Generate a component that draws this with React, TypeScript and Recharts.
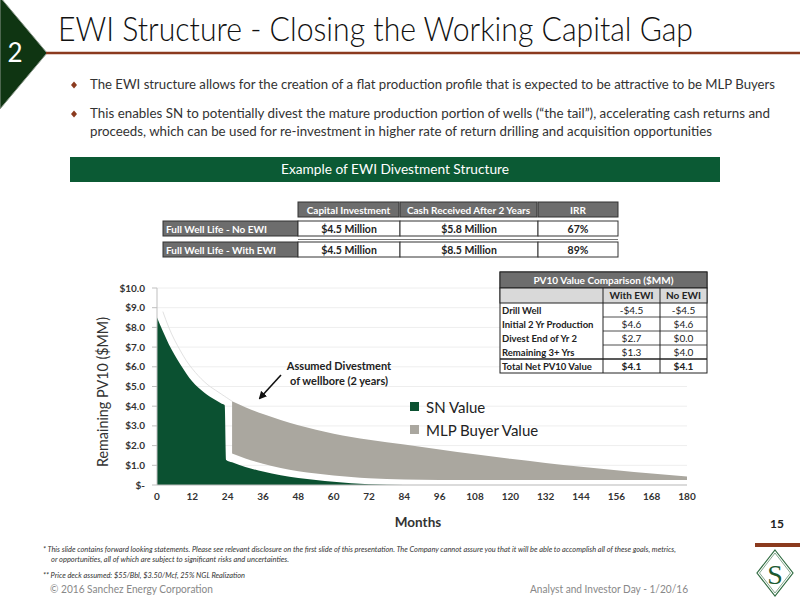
import React from 'react';
import { ComposedChart, Area, Line, XAxis, YAxis, CartesianGrid, Legend } from 'recharts';

// ---------- chart data ----------
const months = [0, 2, 4, 6, 8, 10, 12, 14, 16, 18, 20, 22, 23, 23.5, 25.5, 30, 36, 42, 48, 54, 60, 66, 72, 84, 96, 108, 120, 132, 144, 156, 168, 180];
const snValue = [8.5, 7.8, 7.15, 6.6, 6.1, 5.65, 5.25, 4.95, 4.7, 4.48, 4.3, 4.12, 4.05, 1.27, 1.15, 0.92, 0.68, 0.5, 0.35, 0.25, 0.16, 0.09, 0.04, 0, 0, 0, 0, 0, 0, 0, 0, 0];
const mlpLow: (number | null)[] = [null, null, null, null, null, null, null, null, null, null, null, null, null, null, 1.6, 1.35, 1.08, 0.86, 0.7, 0.58, 0.48, 0.4, 0.34, 0.28, 0.26, 0.25, 0.25, 0.25, 0.25, 0.25, 0.25, 0.25];
const mlpHigh: (number | null)[] = [null, null, null, null, null, null, null, null, null, null, null, null, null, null, 4.25, 3.95, 3.6, 3.3, 3.03, 2.8, 2.6, 2.44, 2.3, 2.05, 1.8, 1.56, 1.33, 1.12, 0.93, 0.75, 0.58, 0.43];
const outline: (number | null)[] = [null, 8.8, 8.0, 7.35, 6.8, 6.3, 5.9, 5.55, 5.25, 5.0, 4.8, 4.6, 4.5, 4.45, 4.25, null, null, null, null, null, null, null, null, null, null, null, null, null, null, null, null, null];

const xTicks = [0, 12, 24, 36, 48, 60, 72, 84, 96, 108, 120, 132, 144, 156, 168, 180];
const yTicks = [0, 1, 2, 3, 4, 5, 6, 7, 8, 9, 10];

const seriesOrder = ['sn', 'mlp'];
const seriesNames = { sn: 'SN Value', mlp: 'MLP Buyer Value' };
const seriesColors = { sn: '#0b5131', mlp: '#aaa79f' };

// ---------- slide text ----------
const titleText = 'EWI Structure - Closing the Working Capital Gap';
const bulletLines = [
  'The EWI structure allows for the creation of a flat production profile that is expected to be attractive to be MLP Buyers',
  'This enables SN to potentially divest the mature production portion of wells (\u201cthe tail\u201d), accelerating cash returns and',
  'proceeds, which can be used for re-investment in higher rate of return drilling and acquisition opportunities',
];
const bannerText = 'Example of EWI Divestment Structure';

// ---------- table 1 ----------
const t1Headers = ['Capital Investment', 'Cash Received After 2 Years', 'IRR'];
const t1RowLabels = ['Full Well Life - No EWI', 'Full Well Life - With EWI'];
const t1Capital = ['$4.5 Million', '$4.5 Million'];
const t1Cash = ['$5.8 Million', '$8.5 Million'];
const t1Irr = ['67%', '89%'];

// ---------- PV10 table ----------
const pvTitle = 'PV10 Value Comparison ($MM)';
const pvHeaders = ['With EWI', 'No EWI'];
const pvLabels = ['Drill Well', 'Initial 2 Yr Production', 'Divest End of Yr 2', 'Remaining 3+ Yrs', 'Total Net PV10 Value'];
const pvWithEwi = ['-$4.5', '$4.6', '$2.7', '$1.3', '$4.1'];
const pvNoEwi = ['-$4.5', '$4.6', '$0.0', '$4.0', '$4.1'];

const footnotes = [
  '* This slide contains forward looking statements.  Please see relevant disclosure on the first slide of this presentation. The Company cannot assure you that it will be able to accomplish all of these goals, metrics,',
  'or opportunities, all of which are subject to significant risks and uncertainties.',
  '** Price deck assumed: $55/Bbl, $3.50/Mcf, 25% NGL Realization',
];

const data = months.map((m, i) => ({
  m,
  sn: snValue[i],
  mlp: mlpLow[i] == null ? null : [mlpLow[i], mlpHigh[i]],
  outline: outline[i],
}));

const FONT = 'Lato, "Open Sans", sans-serif';
const BROWN = '#8b3a1e';

const fmtY = (v: number) => (v === 0 ? '$-' : `$${v.toFixed(1)}`);

const renderLegend = (props: any) => {
  const items = (props.payload || [])
    .filter((p: any) => seriesOrder.includes(p.dataKey))
    .sort((a: any, b: any) => seriesOrder.indexOf(a.dataKey) - seriesOrder.indexOf(b.dataKey));
  return (
    <div style={{ fontFamily: FONT, fontSize: 15, color: '#222' }}>
      {items.map((p: any) => (
        <div key={p.dataKey} style={{ display: 'flex', alignItems: 'center', height: 23 }}>
          <span style={{ display: 'inline-block', width: 9, height: 9, background: (seriesColors as any)[p.dataKey], marginRight: 7 }} />
          <span>{p.value}</span>
        </div>
      ))}
    </div>
  );
};

export default function App() {
  const t1ValueCols = [
    { x: 298, w: 102, vals: t1Capital },
    { x: 400, w: 138, vals: t1Cash },
    { x: 538, w: 80, vals: t1Irr },
  ];
  const t1HeaderCols = [
    { x: 298, w: 101 },
    { x: 400, w: 137 },
    { x: 538, w: 80 },
  ];
  const pvRowTop = 303;
  const pvRowH = 14;

  return (
    <div style={{ position: 'absolute', left: 0, top: 0, width: 800, height: 600, background: '#fff', overflow: 'hidden', fontFamily: FONT }}>
      {/* underlay */}
      <svg width={800} height={600} style={{ position: 'absolute', left: 0, top: 0, zIndex: 0 }}>
        <polygon points="0,-3 47,53 0,109" fill="#0f3512" stroke="#8d9a8d" strokeWidth={1} />
        <text x={15} y={62} fill="#fff" fontSize={26} fontFamily={FONT} textAnchor="middle">2</text>
        <line x1={46} y1={53} x2={800} y2={53} stroke={BROWN} strokeWidth={2.5} />
        <text x={58} y={41} fontSize={33} fontWeight={300} fill="#111" fontFamily={FONT} textLength={635} lengthAdjust="spacingAndGlyphs">{titleText}</text>

        {[85, 114].map((cy) => (
          <polygon key={cy} points={`74,${cy - 3.5} 77,${cy} 74,${cy + 3.5} 71,${cy}`} fill={BROWN} />
        ))}
        <text x={90} y={88.5} fontSize={12.5} fill="#333" fontFamily={FONT} textLength={685} lengthAdjust="spacingAndGlyphs">{bulletLines[0]}</text>
        <text x={90} y={118} fontSize={12.5} fill="#333" fontFamily={FONT} textLength={680} lengthAdjust="spacingAndGlyphs">{bulletLines[1]}</text>
        <text x={90} y={136} fontSize={12.5} fill="#333" fontFamily={FONT} textLength={622} lengthAdjust="spacingAndGlyphs">{bulletLines[2]}</text>

        <rect x={70} y={157} width={650} height={25} fill="#0b5a34" />
        <text x={395} y={174} fontSize={13.5} fill="#fff" fontFamily={FONT} textAnchor="middle" textLength={228} lengthAdjust="spacingAndGlyphs">{bannerText}</text>

        {/* table 1 */}
        {t1HeaderCols.map((c, i) => (
          <g key={i}>
            <rect x={c.x} y={202} width={c.w} height={15} fill="#6d6d6d" stroke="#333" strokeWidth={1} />
            <text x={c.x + c.w / 2} y={213.5} fontSize={10} fontWeight={700} fill="#fff" textAnchor="middle" fontFamily={FONT}>{t1Headers[i]}</text>
          </g>
        ))}
        {t1RowLabels.map((lab, r) => {
          const y = r === 0 ? 221 : 242;
          return (
            <g key={lab}>
              <rect x={163} y={y} width={135} height={15} fill="#6d6d6d" stroke="#333" strokeWidth={1} />
              <text x={166} y={y + 11.5} fontSize={10} fontWeight={700} fill="#fff" fontFamily={FONT}>{lab}</text>
              {t1ValueCols.map((c, i) => (
                <g key={i}>
                  <rect x={c.x} y={y} width={c.w} height={15} fill="#fff" stroke="#333" strokeWidth={1} />
                  <text x={c.x + c.w / 2} y={y + 11.5} fontSize={10.5} fontWeight={700} fill="#222" textAnchor="middle" fontFamily={FONT}>{c.vals[r]}</text>
                </g>
              ))}
            </g>
          );
        })}
        <line x1={298} y1={239.5} x2={618} y2={239.5} stroke="#555" strokeWidth={0.8} />

        {/* axis titles */}
        <text transform="translate(108,392) rotate(-90)" textAnchor="middle" fontSize={14.5} fill="#333" fontFamily={FONT} textLength={150} lengthAdjust="spacingAndGlyphs">Remaining PV10 ($MM)</text>
        <text x={418} y={527} textAnchor="middle" fontSize={13.5} fontWeight={700} fill="#333" fontFamily={FONT}>Months</text>

        <text x={777} y={528} textAnchor="middle" fontSize={12} fontWeight={700} fill="#222" fontFamily={FONT}>15</text>
        <rect x={755} y={543} width={45} height={4} fill={BROWN} />
        <polygon points="775,550 793,573 775,596 757,573" fill="#fff" stroke="#2f6b40" strokeWidth={1.2} />
        <polygon points="775,553 790.5,573 775,593 759.5,573" fill="none" stroke="#2f6b40" strokeWidth={0.6} />
        <text x={775} y={584} textAnchor="middle" fontSize={28} fill="#1d5a31" fontFamily={'"Liberation Serif", "DejaVu Serif", serif'}>S</text>

        <text x={43} y={552} fontSize={7} fontStyle="italic" fill="#333" fontFamily={FONT} textLength={633} lengthAdjust="spacingAndGlyphs">{footnotes[0]}</text>
        <text x={51} y={562} fontSize={7} fontStyle="italic" fill="#333" fontFamily={FONT} textLength={238} lengthAdjust="spacingAndGlyphs">{footnotes[1]}</text>
        <text x={43} y={578} fontSize={7} fontStyle="italic" fill="#333" fontFamily={FONT} textLength={202} lengthAdjust="spacingAndGlyphs">{footnotes[2]}</text>

        <text x={50} y={593} fontSize={10.5} fill="#888" fontFamily={FONT} textLength={163} lengthAdjust="spacingAndGlyphs">© 2016 Sanchez Energy Corporation</text>
        <text x={530} y={593} fontSize={10.5} fill="#888" fontFamily={FONT} textLength={158} lengthAdjust="spacingAndGlyphs">Analyst and Investor Day - 1/20/16</text>
      </svg>

      {/* chart */}
      <div style={{ position: 'absolute', left: 0, top: 0, zIndex: 1 }}>
        <ComposedChart width={800} height={600} data={data} margin={{ top: 288, right: 113, bottom: 85, left: 97 }}>
          <CartesianGrid horizontal vertical={false} stroke="#eeeeee" />
          <XAxis
            dataKey="m"
            type="number"
            domain={[0, 180]}
            ticks={xTicks}
            interval={0}
            height={30}
            axisLine={{ stroke: '#bfbfbf' }}
            tickLine={false}
            tickSize={6}
            tickMargin={2}
            tick={{ fontSize: 10, fontWeight: 700, fill: '#333', fontFamily: FONT }}
          />
          <YAxis
            type="number"
            domain={[0, 10]}
            ticks={yTicks}
            interval={0}
            width={60}
            tickFormatter={fmtY}
            axisLine={{ stroke: '#bfbfbf' }}
            tickLine={{ stroke: '#bfbfbf' }}
            tickSize={5}
            tickMargin={7}
            tick={{ fontSize: 10, fontWeight: 700, fill: '#333', fontFamily: FONT }}
          />
          <Line dataKey="outline" type="monotone" stroke="#e2e2e2" strokeWidth={1} dot={false} isAnimationActive={false} legendType="none" connectNulls={false} />
          <Area dataKey="sn" name={seriesNames.sn} type="monotone" fill={seriesColors.sn} fillOpacity={1} stroke="none" isAnimationActive={false} />
          <Area dataKey="mlp" name={seriesNames.mlp} type="monotone" fill={seriesColors.mlp} fillOpacity={1} stroke="none" isAnimationActive={false} connectNulls={false} />
          <Legend
            layout="horizontal"
            verticalAlign="middle"
            align="center"
            content={renderLegend}
            wrapperStyle={{ position: 'absolute', left: 410, top: 395, width: 'auto', height: 'auto' }}
          />
        </ComposedChart>
      </div>

      {/* overlay */}
      <svg width={800} height={600} style={{ position: 'absolute', left: 0, top: 0, zIndex: 2, pointerEvents: 'none' }}>
        <defs>
          <marker id="arrowHead" markerWidth={8} markerHeight={8} refX={6} refY={4} orient="auto" markerUnits="userSpaceOnUse">
            <path d="M0,0 L8,4 L0,8 Z" fill="#111" />
          </marker>
        </defs>
        <text x={339} y={370} textAnchor="middle" fontSize={11} fontWeight={700} fill="#222" fontFamily={FONT}>Assumed Divestment</text>
        <text x={339} y={385} textAnchor="middle" fontSize={11} fontWeight={700} fill="#222" fontFamily={FONT}>of wellbore (2 years)</text>
        <line x1={281} y1={375} x2={260} y2={398} stroke="#111" strokeWidth={1.6} markerEnd="url(#arrowHead)" />

        {/* PV10 table */}
        <rect x={500} y={272} width={207} height={101} fill="#fff" stroke="#222" strokeWidth={1} />
        <rect x={500} y={272} width={207} height={16} fill="#6d6d6d" stroke="#222" strokeWidth={1} />
        <text x={603.5} y={284} textAnchor="middle" fontSize={10} fontWeight={700} fill="#fff" fontFamily={FONT}>{pvTitle}</text>
        <rect x={500} y={288} width={207} height={15} fill="#d9d9d9" stroke="#222" strokeWidth={1} />
        <text x={631.5} y={299} textAnchor="middle" fontSize={10} fontWeight={700} fill="#222" fontFamily={FONT}>{pvHeaders[0]}</text>
        <text x={683.5} y={299} textAnchor="middle" fontSize={10} fontWeight={700} fill="#222" fontFamily={FONT}>{pvHeaders[1]}</text>
        <line x1={603} y1={288} x2={603} y2={373} stroke="#222" strokeWidth={1} />
        <line x1={660} y1={288} x2={660} y2={373} stroke="#222" strokeWidth={1} />
        {[1, 2, 3].map((k) => (
          <line key={k} x1={603} y1={pvRowTop + k * pvRowH} x2={707} y2={pvRowTop + k * pvRowH} stroke="#222" strokeWidth={0.8} />
        ))}
        <line x1={500} y1={pvRowTop + 4 * pvRowH} x2={707} y2={pvRowTop + 4 * pvRowH} stroke="#222" strokeWidth={1.4} />
        {pvLabels.map((lab, r) => {
          const y = pvRowTop + r * pvRowH + 10.5;
          return (
            <g key={lab}>
              <text x={502} y={y} fontSize={9.5} fontWeight={700} fill="#222" fontFamily={FONT}>{lab}</text>
              <text x={631.5} y={y} textAnchor="middle" fontSize={10} fontWeight={r === 4 ? 700 : 400} fill="#222" fontFamily={FONT}>{pvWithEwi[r]}</text>
              <text x={683.5} y={y} textAnchor="middle" fontSize={10} fontWeight={r === 4 ? 700 : 400} fill="#222" fontFamily={FONT}>{pvNoEwi[r]}</text>
            </g>
          );
        })}
      </svg>
    </div>
  );
}
